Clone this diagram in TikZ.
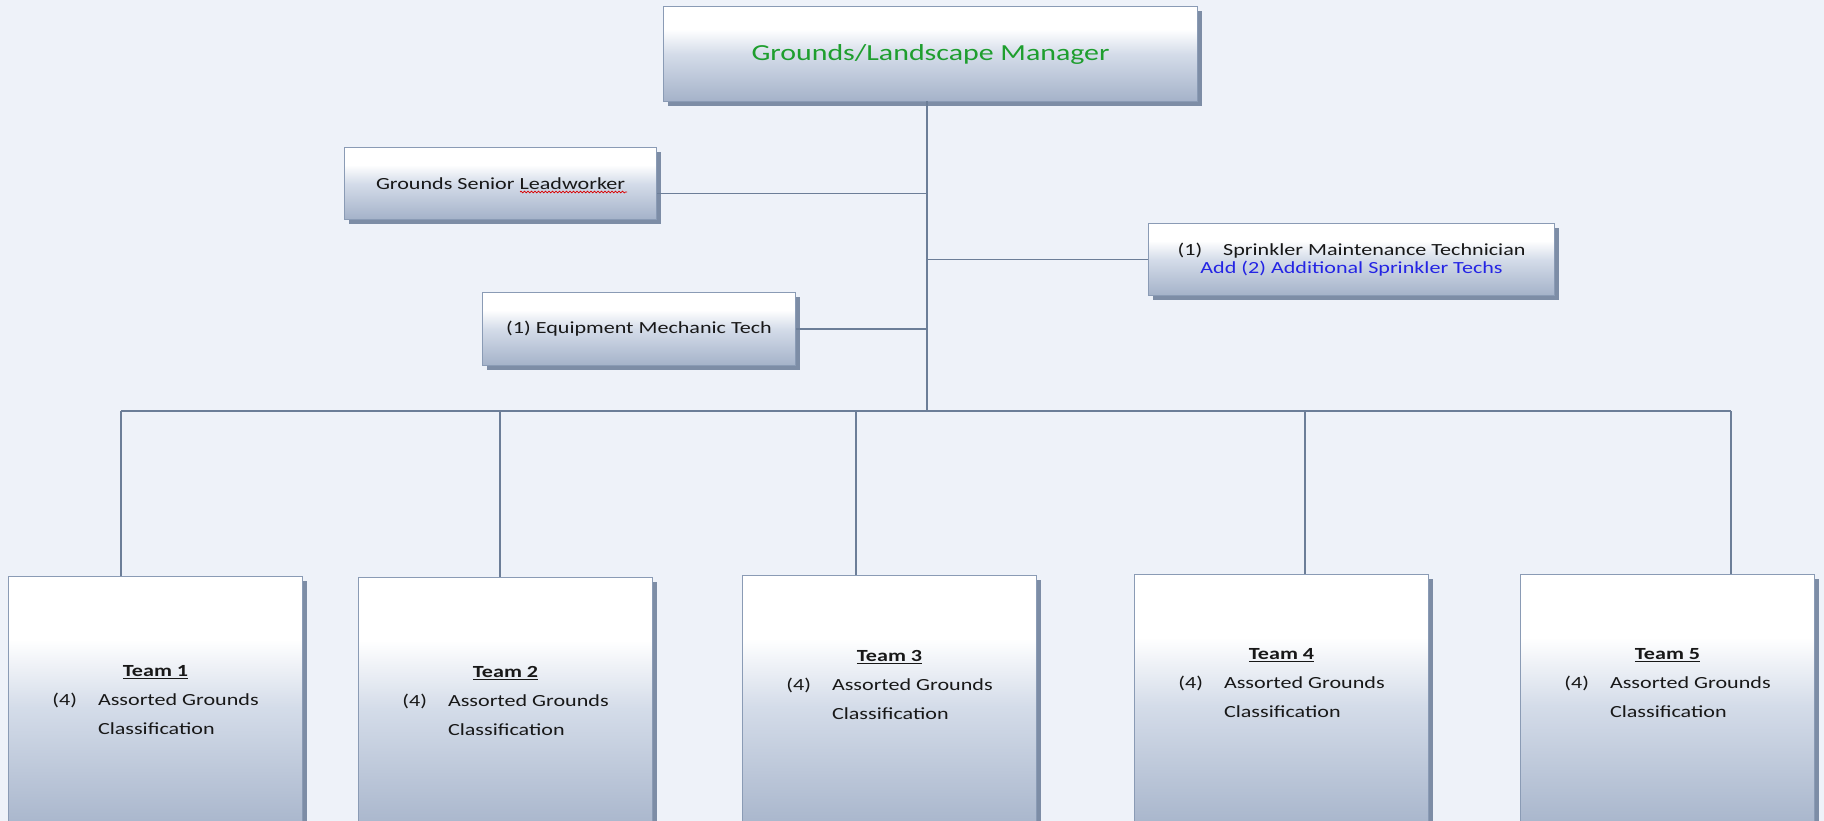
\documentclass[tikz,border=0pt]{standalone}
\usepackage{fontspec}
\setmainfont{Carlito}[FakeStretch=1.3]
\usetikzlibrary{shadows,decorations.pathmorphing}
\definecolor{bg}{RGB}{238,242,249}
\definecolor{boxbot}{RGB}{164,178,201}
\definecolor{boxmid}{RGB}{212,220,233}
\definecolor{edge}{RGB}{138,155,181}
\definecolor{shadowc}{RGB}{125,141,166}
\definecolor{linec}{RGB}{108,126,152}
\definecolor{mgrgreen}{RGB}{30,158,46}
\definecolor{addblue}{RGB}{36,36,228}
\definecolor{txt}{RGB}{24,24,24}
\pgfdeclareverticalshading{orgshade}{100bp}{color(0bp)=(boxbot); color(25bp)=(boxbot); color(50bp)=(boxmid); color(63bp)=(white); color(100bp)=(white)}
\newcommand{\teamtext}[1]{\fontsize{17}{29}\selectfont\begin{tabular}{@{}l@{\hspace{21pt}}l@{}}\multicolumn{2}{c}{\textbf{\underline{Team #1}}}\\ (4) & Assorted Grounds\\ & Classification\end{tabular}}
\newcommand{\boxfont}{\fontsize{17}{17.5}\selectfont\lineskiplimit=-100pt\relax}
\begin{document}
\begin{tikzpicture}[x=1pt,y=-1pt,
  orgbox/.style={draw=edge, line width=1.1pt, shading=orgshade,
    drop shadow={shadow xshift=4pt, shadow yshift=-4pt, fill=shadowc, opacity=1},
    anchor=north west, inner sep=0pt, text=txt, align=center,
    font=\boxfont},
  teambox/.style={orgbox, minimum width=294pt, minimum height=262pt},
  teamlbl/.style={text=txt, inner sep=0pt, anchor=center},
  link/.style={draw=linec, line width=1.3pt}]
\fill[bg] (0,0) rectangle (1824,821);
\useasboundingbox (0,0) rectangle (1824,821);

% upper boxes
\node[orgbox, minimum width=534pt, minimum height=95pt, font=\fontsize{23}{28}\selectfont, text=mgrgreen] (mgr) at (663,6) {Grounds/Landscape Manager};
\node[orgbox, minimum width=312pt, minimum height=72pt] (lead) at (344,147) {Grounds Senior Leadworker};
\node[orgbox, minimum width=406pt, minimum height=72pt] (sprk) at (1148,223) {(1)\hspace{21pt}Sprinkler Maintenance Technician\\\textcolor{addblue}{Add (2) Additional Sprinkler Techs}};
\node[orgbox, minimum width=313pt, minimum height=73pt] (equip) at (482,292) {(1) Equipment Mechanic Tech};

% spell-check squiggle
\draw[red!85!black, line width=0.7pt, decorate, decoration={snake, amplitude=0.9pt, segment length=3.5pt}] (520,192) -- (627,192);

% team boxes
\node[teambox] (t1) at (8,576) {};
\node[teambox] (t2) at (358,577) {};
\node[teambox] (t3) at (742,575) {};
\node[teambox] (t4) at (1134,574) {};
\node[teambox] (t5) at (1520,574) {};
\node[teamlbl] (l1) at ([yshift=-124pt]t1.north) {\teamtext{1}};
\node[teamlbl] (l2) at ([yshift=-124pt]t2.north) {\teamtext{2}};
\node[teamlbl] (l3) at ([yshift=-110pt]t3.north) {\teamtext{3}};
\node[teamlbl] (l4) at ([yshift=-109pt]t4.north) {\teamtext{4}};
\node[teamlbl] (l5) at ([yshift=-109pt]t5.north) {\teamtext{5}};

% connectors
\coordinate (hub) at (927,411);
\coordinate (top) at (927,101);
\coordinate (d1) at (121,411);
\coordinate (d2) at (500,411);
\coordinate (d3) at (856,411);
\coordinate (d4) at (1305,411);
\coordinate (d5) at (1731,411);
\coordinate (leadc) at ([yshift=-10pt]lead.east);
\draw[link] (top) -- (hub);
\draw[link] (d1) -- (d5);
\draw[link] (leadc) -- (leadc -| hub);
\draw[link] (sprk.west) -- (sprk.west -| hub);
\draw[link] (equip.east) -- (equip.east -| hub);
\draw[link] (d1) -- (d1 |- t1.north);
\draw[link] (d2) -- (d2 |- t2.north);
\draw[link] (d3) -- (d3 |- t3.north);
\draw[link] (d4) -- (d4 |- t4.north);
\draw[link] (d5) -- (d5 |- t5.north);
\end{tikzpicture}
\end{document}
